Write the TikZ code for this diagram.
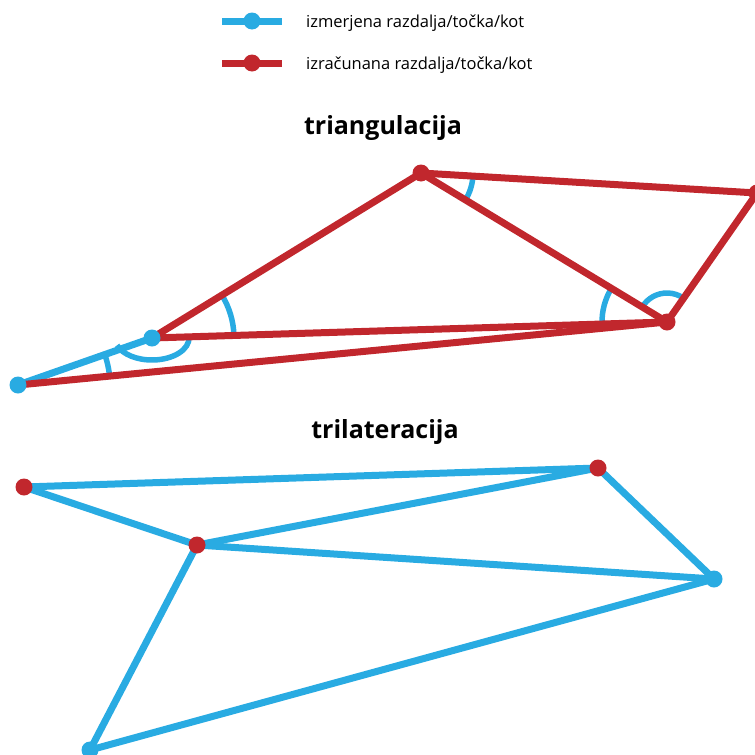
\documentclass[tikz,border=0pt]{standalone}
\usepackage{fontspec}
\setmainfont{Open Sans}
\definecolor{measured}{HTML}{29ABE2}
\definecolor{computed}{HTML}{C1272D}
\tikzset{
  mline/.style={draw=measured, line width=7pt},
  cline/.style={draw=computed, line width=7pt},
  angarc/.style={draw=measured, line width=5.5pt},
  mdot/.style={circle, fill=measured, minimum size=17pt, inner sep=0pt},
  cdot/.style={circle, fill=computed, minimum size=17pt, inner sep=0pt},
  legtext/.style={anchor=base west, font=\fontsize{16.5}{20}\selectfont, inner sep=0pt},
  title/.style={font=\fontsize{25}{30}\selectfont\bfseries, inner sep=0pt}
}
\begin{document}
\begin{tikzpicture}[x=1pt,y=-1pt]
\useasboundingbox (0,0) rectangle (755,755);

% legend
\coordinate (lb1) at (222,21); \coordinate (lb2) at (282,21);
\coordinate (lr1) at (222,63); \coordinate (lr2) at (282,63);
\draw[mline] (lb1) -- (lb2);
\node[mdot] (lbd) at (252,21) {};
\draw[cline] (lr1) -- (lr2);
\node[cdot] (lrd) at (252,63) {};
\node[legtext] (lbt) at (306,27) {izmerjena razdalja/točka/kot};
\node[legtext] (lrt) at (306,69) {izračunana razdalja/točka/kot};

% triangulation
\node[title] (t1) at (383,128) {triangulacija};
\coordinate (A) at (18,385);
\coordinate (B) at (152,338);
\coordinate (C) at (421,173);
\coordinate (D) at (667,322);
\coordinate (E) at (757,193);

% measured angles
\draw[angarc] (A) ++(-19.3:92) arc[start angle=-19.3, end angle=-5.5, radius=92];
\draw[angarc] (B) ++(-1.8:37 and 22) arc[start angle=-1.8, end angle=160.7, x radius=37, y radius=22];
\draw[angarc] (B) ++(-31.5:82) arc[start angle=-31.5, end angle=-1.8, radius=82];
\draw[angarc] (C) ++(3.4:52) arc[start angle=3.4, end angle=31.2, radius=52];
\draw[angarc] (D) ++(178.2:65) arc[start angle=178.2, end angle=211.2, radius=65];
\draw[angarc] (D) ++(211.2:29) arc[start angle=211.2, end angle=304.7, radius=29];

% sides
\draw[mline] (A) -- (B);
\draw[cline] (A) -- (D);
\draw[cline] (B) -- (D);
\draw[cline] (B) -- (C);
\draw[cline] (C) -- (D);
\draw[cline] (C) -- (E);
\draw[cline] (E) -- (D);

\node[mdot] (dA) at (A) {};
\node[mdot] (dB) at (B) {};
\node[cdot] (dC) at (C) {};
\node[cdot] (dD) at (D) {};
\node[cdot] (dE) at (E) {};

% trilateration
\node[title] (t2) at (385,432) {trilateracija};
\coordinate (P1) at (24,487);
\coordinate (P2) at (197,545);
\coordinate (P3) at (598,468);
\coordinate (P4) at (714,579);
\coordinate (P5) at (90,750);

\draw[mline] (P1) -- (P3);
\draw[mline] (P1) -- (P2);
\draw[mline] (P2) -- (P3);
\draw[mline] (P2) -- (P4);
\draw[mline] (P2) -- (P5);
\draw[mline] (P3) -- (P4);
\draw[mline] (P5) -- (P4);

\node[cdot] (dP1) at (P1) {};
\node[cdot] (dP2) at (P2) {};
\node[cdot] (dP3) at (P3) {};
\node[mdot] (dP4) at (P4) {};
\node[mdot] (dP5) at (P5) {};
\end{tikzpicture}
\end{document}
